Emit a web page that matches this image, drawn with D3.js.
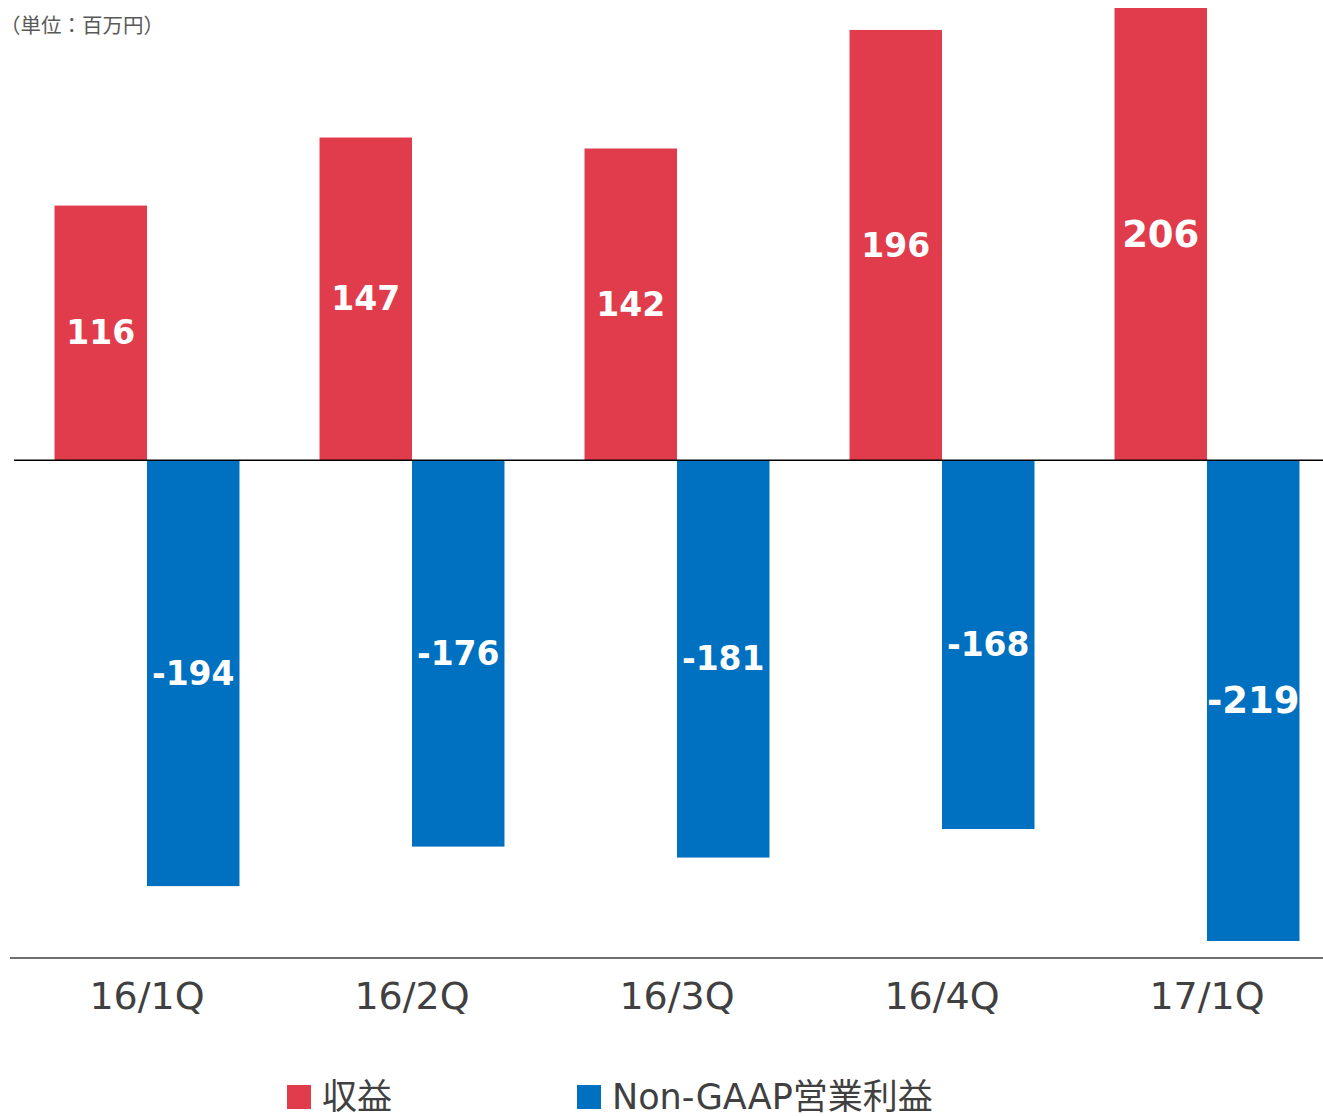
<!DOCTYPE html>
<html>
<head>
<meta charset="utf-8">
<script src="https://cdn.jsdelivr.net/npm/d3@7"></script>
<style>
  html, body { margin: 0; padding: 0; background: #fff; }
  svg { display: block; font-family: "DejaVu Sans", "Noto Sans CJK JP", sans-serif; }
</style>
</head>
<body>
<div id="chart"></div>
<script>
const categories = ["16/1Q", "16/2Q", "16/3Q", "16/4Q", "17/1Q"]
const revenue = [116, 147, 142, 196, 206]
const operating = [-194, -176, -181, -168, -219]
const seriesNames = ["収益", "Non-GAAP営業利益"]
const seriesColors = ["#E03C4C", "#0070C0"]

let width = 1323
let height = 1116

let svg = d3.select("#chart").append("svg")
    .attr("width", width)
    .attr("height", height)

// unit note
svg.append("text")
    .attr("x", 0)
    .attr("y", 33)
    .style("font-size", "20.5px")
    .style("fill", "#595959")
    .text("（単位：百万円）")

let x = d3.scaleBand()
    .domain(categories)
    .range([14.5, 1339.5])
    .paddingInner(0.302)
    .paddingOuter(0.151)

let sub = d3.scaleBand()
    .domain([0, 1])
    .range([0, x.bandwidth()])

let y = d3.scaleLinear()
    .domain([-219, 206])
    .range([941, 8])

let rows = categories.map((c, i) => ({ cat: c, values: [revenue[i], operating[i]] }))
let bars = []
rows.forEach((r, i) => {
    r.values.forEach((v, s) => {
        bars.push({ cat: r.cat, s: s, v: v, big: i == categories.length - 1 })
    })
})

svg.selectAll(".bar")
    .data(bars)
    .enter().append("rect")
    .attr("class", "bar")
    .attr("x", (d) => x(d.cat) + sub(d.s))
    .attr("y", (d) => Math.min(y(d.v), y(0)))
    .attr("width", sub.bandwidth())
    .attr("height", (d) => Math.abs(y(d.v) - y(0)))
    .style("fill", (d) => seriesColors[d.s])

svg.selectAll(".val")
    .data(bars)
    .enter().append("text")
    .attr("class", "val")
    .attr("x", (d) => x(d.cat) + sub(d.s) + sub.bandwidth() / 2)
    .attr("y", (d) => (y(d.v) + y(0)) / 2)
    .attr("text-anchor", "middle")
    .attr("dominant-baseline", "central")
    .style("font-size", (d) => d.big ? "37px" : "33px")
    .style("font-weight", "bold")
    .style("fill", "#fff")
    .text((d) => d.v)

// zero line
svg.append("line")
    .attr("x1", 14).attr("x2", width)
    .attr("y1", y(0)).attr("y2", y(0))
    .style("stroke", "#000")
    .style("stroke-width", 1.3)

// category axis
let axis = svg.append("g")
    .attr("transform", "translate(0,958)")
    .call(d3.axisBottom(x).tickSize(0).tickPadding(24))
axis.select(".domain")
    .attr("d", "M10,0H" + width)
    .style("stroke", "#404040")
    .style("stroke-width", 1.5)
axis.selectAll("text")
    .style("font-family", "'DejaVu Sans', sans-serif")
    .style("font-size", "38px")
    .style("fill", "#404040")

// legend
let legendX = [287, 577]
let legend = svg.selectAll(".legend")
    .data(seriesNames)
    .enter().append("g")
    .attr("class", "legend")
    .attr("transform", (d, i) => "translate(" + legendX[i] + ",1085)")
legend.append("rect")
    .attr("width", 24)
    .attr("height", 24)
    .style("fill", (d, i) => seriesColors[i])
legend.append("text")
    .attr("x", 35)
    .attr("y", 12)
    .attr("dominant-baseline", "central")
    .style("font-size", "35px")
    .style("fill", "#404040")
    .text((d) => d)
</script>
</body>
</html>
